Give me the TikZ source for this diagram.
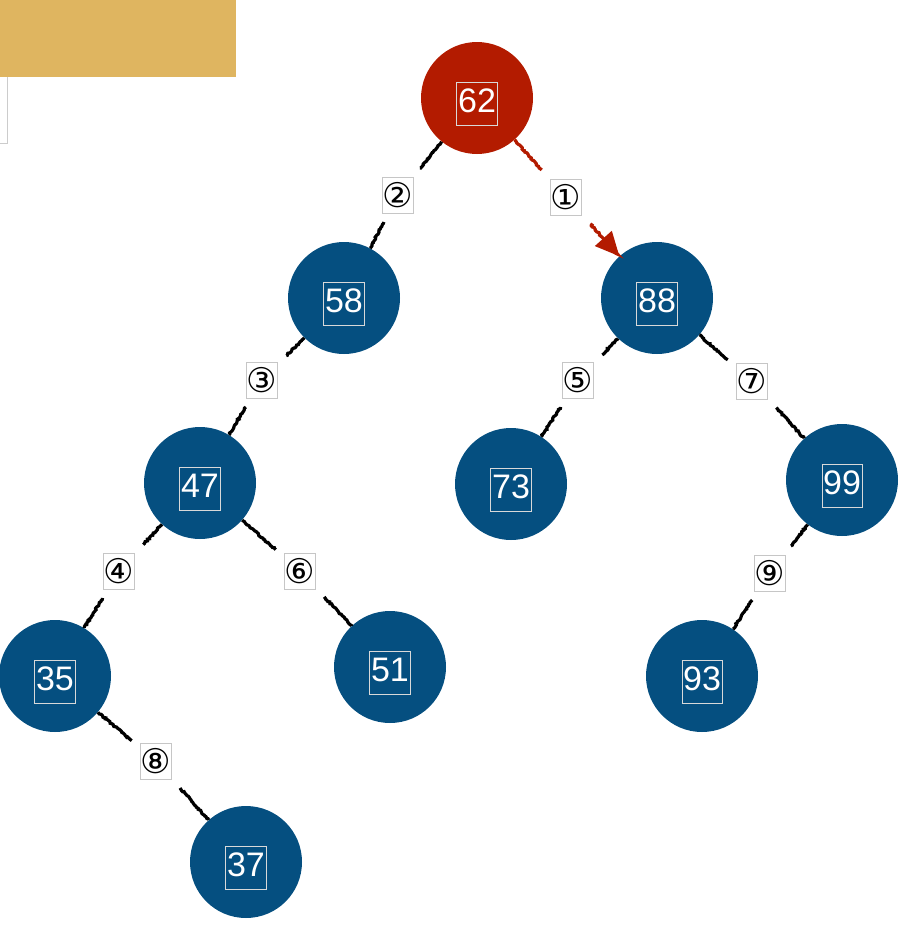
\documentclass[tikz,border=0pt]{standalone}
\usepackage{fontspec}
\setmainfont{Liberation Sans}
\newfontfamily\circfont{DejaVu Sans}
\usepackage{xcolor}
\usepackage{tikz}
\usetikzlibrary{arrows.meta, decorations.pathmorphing}

\definecolor{treeblue}{HTML}{054F80}
\definecolor{treered}{HTML}{B31B00}
\definecolor{tabgold}{HTML}{DFB560}

\newcommand{\keybox}[1]{\raisebox{-14pt}[0pt][0pt]{\fboxrule=0.6pt\fboxsep=1pt\color{white!70!gray}\fbox{\color{white}\strut#1}}}

\tikzset{
  tnode/.style={circle, fill=treeblue, minimum size=112pt, inner sep=0pt,
                font=\fontsize{34}{40}\selectfont},
  hotnode/.style={tnode, fill=treered},
  stepno/.style={draw=gray!45, line width=0.6pt, fill=white, inner sep=0pt,
                 minimum width=26pt, minimum height=36pt, outer sep=9pt,
                 font=\circfont\fontsize{34}{36}\selectfont},
  edge/.style={line width=3.2pt, black, decorate,
               decoration={random steps, segment length=1.5pt, amplitude=0.7pt}},
  hotedge/.style={edge, treered}
}

\begin{document}
\begin{tikzpicture}[x=1pt, y=-1pt, >={Triangle[length=24pt, width=22pt]}]
    \useasboundingbox (0,0) rectangle (902,926);

    % --- top left corner ---
    \fill[tabgold] (0,0) rectangle (236,77);
    \draw[gray!40, line width=0.8pt] (7,77) -- (7,143) -- (0,143);

    % --- nodes ---
    \node[hotnode] (n62) at (477,98)  {\keybox{62}};
    \node[tnode]   (n58) at (344,298) {\keybox{58}};
    \node[tnode]   (n88) at (657,298) {\keybox{88}};
    \node[tnode]   (n47) at (200,483) {\keybox{47}};
    \node[tnode]   (n73) at (511,484) {\keybox{73}};
    \node[tnode]   (n99) at (842,480) {\keybox{99}};
    \node[tnode]   (n35) at (55,676)  {\keybox{35}};
    \node[tnode]   (n51) at (390,667) {\keybox{51}};
    \node[tnode]   (n93) at (702,676) {\keybox{93}};
    \node[tnode]   (n37) at (246,862) {\keybox{37}};

    % --- step numbers ---
    \node[stepno] (s1) at (566,197) {①};
    \node[stepno] (s2) at (398,195) {②};
    \node[stepno] (s3) at (262,380) {③};
    \node[stepno] (s4) at (119,571) {④};
    \node[stepno] (s5) at (578,380) {⑤};
    \node[stepno] (s6) at (300,571) {⑥};
    \node[stepno] (s7) at (752,381) {⑦};
    \node[stepno] (s8) at (156,761) {⑧};
    \node[stepno] (s9) at (770,573) {⑨};

    % --- edges ---
    \draw[hotedge] (n62) -- (s1);
    \draw[hotedge, ->, decoration={post length=3pt}] (s1) -- (n88);
    \foreach \a/\s/\b in {n62/s2/n58, n58/s3/n47, n47/s4/n35, n88/s5/n73,
                          n47/s6/n51, n88/s7/n99, n35/s8/n37, n99/s9/n93}{
        \draw[edge] (\a) -- (\s);
        \draw[edge] (\s) -- (\b);
    }

\end{tikzpicture}
\end{document}
